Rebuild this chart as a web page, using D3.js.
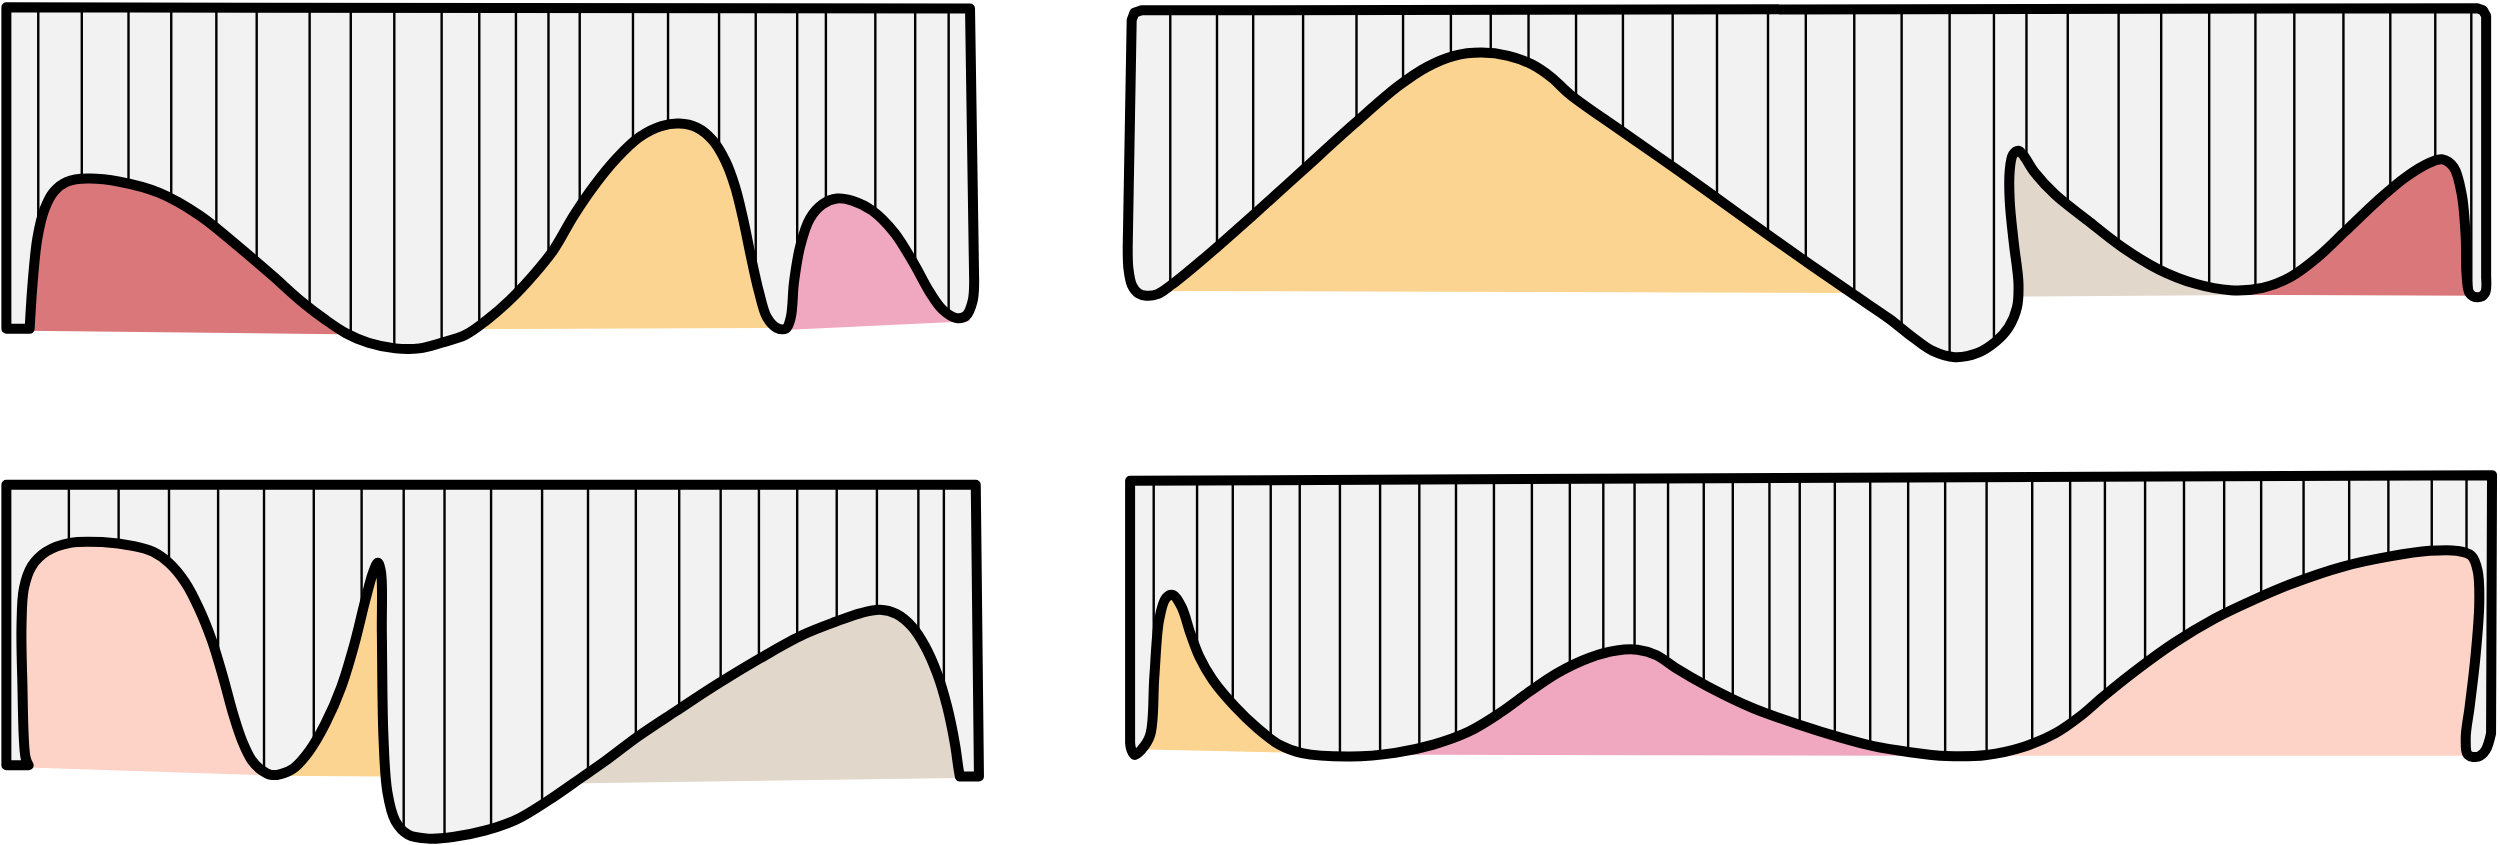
<!DOCTYPE html>
<html>
<head>
<meta charset="utf-8">
<script src="https://cdn.jsdelivr.net/npm/d3@7"></script>
<style>
  html, body { margin: 0; padding: 0; background: #fff; }
  svg { display: block; }
</style>
</head>
<body>
<div id="chart"></div>
<script>
// x = position along each strip, y = level above that strip's baseline
// strip 1 (top left)
const p1Left = [[-1, 202.4], [-1, 0.8], [13.6, 0.8]];
const p1Curve = [[13.6, 0.8], [15.5, 30], [18.5, 58], [23, 76], [29, 87], [37, 93], [50, 95], [70, 93], [95, 86],
  [120, 72], [145, 52], [166, 34], [184, 18], [199, 6.5], [212, -2], [226, -8], [243, -11.5], [258, -11.5], [272, -8],
  [287, -3], [300, 6], [315, 19], [330, 35], [342, 50], [355, 72], [368, 91], [382, 108], [396, 121], [410, 128],
  [421, 129.5], [432, 127], [442, 119], [450, 106], [456, 90], [461, 70], [466, 46], [471, 24], [476, 8],
  [482, 1.5], [488, 1], [491, 8], [493, 30], [497, 53], [503, 70], [511, 79], [520, 82.5], [530, 81], [542, 75],
  [556, 61], [568, 42], [578, 24], [586, 13], [595, 7.5], [601, 9], [605, 18], [606, 30]];
const p1Right = [[603.4, 201.6]];
const p1Ticks = [19, 46.3, 75.6, 102.4, 130.7, 156, 189.2, 215, 242.3, 272, 295.6, 318.6, 339, 358.6, 392, 414,
  446, 469, 495, 513, 544, 569, 590];
const p1Bands = [["red", 10, 235, -0.4, -3], ["orange", 235, 487, 0.4, 1.3], ["pink", 487, 603, 0, 5.5]];

// strip 2 (top right)
const p2Left = [[7, 177.5], [2.5, 176], [0.8, 171.5], [-1.7, 29]];
const p2Curve = [[-1.7, 29], [-1.2, 15], [1, 5], [5, 0], [10, -1.5], [17, -0.5], [26, 5.5], [45, 21], [78, 50],
  [109, 78], [140, 106], [168, 130], [186, 142], [203, 149], [220, 151], [237, 149], [252, 143.5], [264, 135.5],
  [276, 124.5], [307, 102.5], [345, 76], [382, 49.5], [420, 22.5], [454, -1], [476, -16], [490, -27], [503, -36],
  [517, -40], [531, -37.5], [543, -30], [551, -21], [556, -9], [557, 6], [554, 32], [551.5, 58], [551.5, 77],
  [553.5, 87], [557, 89.5], [560.5, 86], [567, 76], [580, 62], [600, 46], [622, 29], [645, 15], [668, 6], [690, 2],
  [710, 3.5], [728, 10.5], [745, 23], [762, 39], [782, 58], [800, 73], [815, 82], [823, 84], [830, 79], [835, 62],
  [837.5, 35], [838, 12], [840, 0], [845, -2.5], [849.5, 0], [850.3, 10]];
const p2Right = [[850.3, 174], [848.3, 177.6], [844.7, 178.8]];
const p2Ticks = [25, 54.3, 77, 108.3, 141.8, 171, 201, 226, 249.7, 279.5, 308.9, 340.1, 367.9, 399.9, 423.6, 454,
  483.7, 513.8, 541.6, 562, 587.9, 619.8, 646.5, 676.6, 705.6, 730, 760.8, 790.2, 818.4, 841];
const p2Bands = [["orange", 5, 470, 1.5, 0.3], ["beige", 553, 701, -2, -1], ["red", 701, 846, -1, -1.5]];

// strip 3 (bottom left)
const p3Left = [[0, 183], [0, 7], [14, 7]];
const p3Curve = [[14, 7], [12, 12], [10, 60], [9.5, 95], [11, 118], [16, 132], [25, 141], [40, 146.5], [60, 147],
  [80, 144.5], [92, 141], [102, 134], [112, 122], [121, 105], [129, 85], [136, 62], [142, 40], [148, 22],
  [154, 10], [160, 4], [166, 1], [172, 1.5], [180, 5], [190, 16], [200, 33], [210, 56], [218, 82], [225, 110],
  [230, 128], [233, 134], [235, 128], [235.5, 90], [236.5, 25], [239, -10], [244, -28], [252, -36.5], [265, -39],
  [280, -38], [300, -34], [320, -27], [340, -15], [356, -4], [376, 10], [396, 25], [420, 41], [446, 58], [476, 76],
  [500, 89], [520, 97], [536, 102.5], [548, 104.5], [558, 102], [568, 94], [576, 82], [584, 64], [590, 44],
  [595, 20], [597, 6], [598, 0]];
const p3Right = [[610, 0], [608, 183]];
const p3Ticks = [39.2, 70.4, 102, 132.8, 161.6, 192.8, 222.8, 249.2, 274.8, 304, 336, 364.8, 394.8, 422, 448, 472,
  496, 520.8, 546, 572, 588];
const p3Bands = [["salmon", 4, 168, 6, 0.5], ["orange", 168, 237, 0.5, 0], ["beige", 340, 598, -4.5, -1]];

// strip 4 (bottom right)
const p4Left = [[-0.2, 171.5], [-0.2, 7]];
const p4Curve = [[-0.2, 7], [0.5, 3], [2.6, -0.5], [6.8, 2.7], [12.4, 12], [15, 48.6], [18, 84.2], [22.2, 97.8],
  [26.4, 99.9], [32, 92.5], [37.6, 75.8], [43.2, 61.2], [51.6, 46.6], [65.6, 29.8], [79.6, 16.3], [93.6, 5.8],
  [107.6, 0.6], [138, -1.5], [166, 0.8], [190, 6], [212, 14], [232, 26], [250, 39], [268, 51], [288, 60.5],
  [305, 65], [318, 65.5], [330, 62], [342, 54], [362, 42.5], [390, 29], [420, 18.3], [445, 10.5], [466, 5],
  [487, 1.5], [512, -1.2], [537, -0.5], [560, 4.5], [580, 13], [596, 24], [610, 36], [630, 52], [655, 70],
  [680, 85], [705, 97], [730, 107.5], [760, 117.5], [790, 124], [815, 127.5], [832, 127.5], [841, 124.5],
  [845, 115], [846, 95], [843.5, 60], [840, 30], [837.5, 10], [839, -0.5], [845.6, -1.5], [850, 2.5], [853.4, 13]];
const p4Right = [[854, 175]];
const p4Ticks = [14.6, 41.8, 64.2, 88, 106.2, 131.4, 156.6, 181.2, 204.2, 228, 251.8, 275.6, 296.6, 316.2, 337.2,
  359.6, 377.8, 400.8, 419.8, 441.8, 464, 487.8, 511, 537, 565.6, 589.4, 611.2, 636.4, 660.8, 686, 709.2, 735.8,
  764.4, 789, 816.2, 838];
const p4Bands = [["orange", 4, 131, 3, 0.3], ["pink", 131, 491, -0.3, -1], ["salmon", 491, 846, -1, -1]];

const bandKeys = ["red", "orange", "pink", "salmon", "beige"];

// layout
const width = 2500, height = 845;
const k = width / 1568; // sheet units -> pixels
const frames = [
  { left: 5, base: 207 },
  { left: 709, base: 184 },
  { left: 4, base: 487 },
  { left: 709, base: 473 }
];

const color = d3.scaleOrdinal()
  .domain(bandKeys)
  .range(["#d9777a", "#fcd491", "#f0a8c1", "#fcd3c6", "#e2d7cb"]);

const svg = d3.select("#chart").append("svg")
  .attr("width", width)
  .attr("height", height);

const panels = [
  [p1Left, p1Curve, p1Right, p1Ticks, p1Bands],
  [p2Left, p2Curve, p2Right, p2Ticks, p2Bands],
  [p3Left, p3Curve, p3Right, p3Ticks, p3Bands],
  [p4Left, p4Curve, p4Right, p4Ticks, p4Bands]
];

panels.forEach(([left, curve, right, ticks, bands], i) => {
  const f = frames[i];
  const x = d3.scaleLinear().domain([0, 100]).range([f.left * k, (f.left + 100) * k]);
  const y = d3.scaleLinear().domain([0, 100]).range([f.base * k, (f.base - 100) * k]);

  const straight = d3.line().x(d => x(d[0])).y(d => y(d[1]));
  const smooth = d3.line().x(d => x(d[0])).y(d => y(d[1])).curve(d3.curveCatmullRom.alpha(0.5));

  const outline = straight(left)
    + smooth(curve).replace(/^M/, "L")
    + straight(right).replace(/^M/, "L") + "Z";

  const topA = left[0][1], topB = right[right.length - 1][1];
  const bandTop = Math.min(topA, topB) - 3;
  const g = svg.append("g").attr("class", "panel-" + (i + 1));

  g.append("clipPath").attr("id", "clip-" + i)
    .append("path").attr("d", outline);

  // coloured bands, trimmed by the grey area drawn on top
  g.selectAll("path.band").data(bands).join("path")
    .attr("class", "band")
    .attr("fill", d => color(d[0]))
    .attr("d", d => straight([[d[1], d[3]], [d[2], d[4]], [d[2], bandTop], [d[1], bandTop]]) + "Z");

  g.append("path")
    .attr("class", "area")
    .attr("d", outline)
    .attr("fill", "#f2f2f2");

  g.append("g").attr("clip-path", "url(#clip-" + i + ")")
    .selectAll("line").data(ticks).join("line")
    .attr("x1", d => x(d)).attr("x2", d => x(d))
    .attr("y1", y(Math.max(topA, topB) + 5)).attr("y2", y(-60))
    .attr("stroke", "#000")
    .attr("stroke-width", 2.4);

  g.append("path")
    .attr("class", "outline")
    .attr("d", outline)
    .attr("fill", "none")
    .attr("stroke", "#000")
    .attr("stroke-width", 10)
    .attr("stroke-linejoin", "round");
});
</script>
</body>
</html>
